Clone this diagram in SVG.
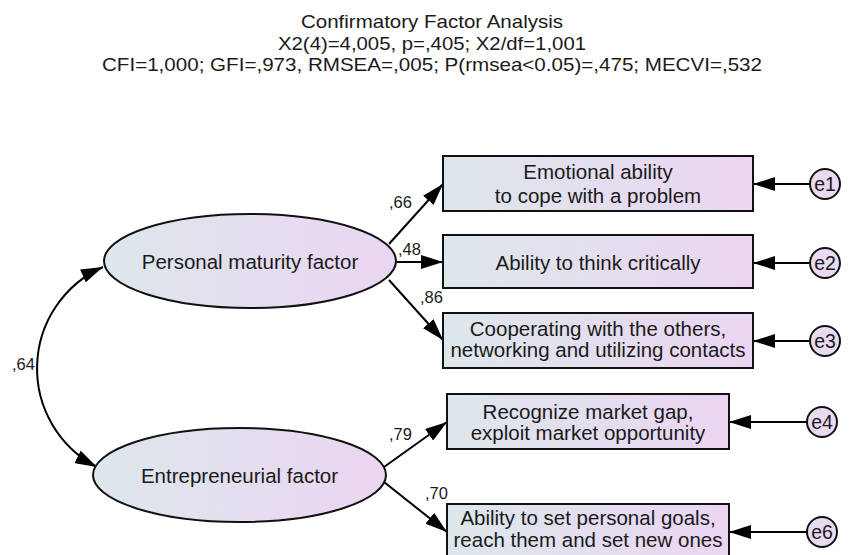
<svg xmlns="http://www.w3.org/2000/svg" width="850" height="555" viewBox="0 0 850 555">
  <defs>
    <linearGradient id="fillGrad" x1="0" y1="0" x2="1" y2="0">
      <stop offset="0" stop-color="#dde7eb"/>
      <stop offset="1" stop-color="#ebd5f2"/>
    </linearGradient>
    <marker id="arrow" viewBox="0 0 22 14" markerWidth="22" markerHeight="14" refX="22" refY="7" orient="auto-start-reverse" markerUnits="userSpaceOnUse">
      <path d="M0,0 L22,7 L0,14 z" fill="#000"/>
    </marker>
    <style>
      text { font-family: "Liberation Sans", Arial, sans-serif; fill: #1a1a1a; }
      .title { font-size: 19px; text-anchor: middle; }
      .lbl { font-size: 20.5px; text-anchor: middle; }
      .etxt { font-size: 19.5px; text-anchor: middle; }
      .coef { font-size: 16.5px; }
      .node rect, .node ellipse { fill: url(#fillGrad); stroke: #111; stroke-width: 2; }
      .err circle { fill: #e9d9f1; stroke: #111; stroke-width: 2; }
      .conn path, .conn line { fill: none; stroke: #000; stroke-width: 2; marker-end: url(#arrow); }
    </style>
  </defs>
  <rect width="850" height="555" fill="#fff"/>

  <!-- fit statistics heading -->
  <g id="heading">
    <text class="title" x="432" y="28" textLength="262" lengthAdjust="spacingAndGlyphs">Confirmatory Factor Analysis</text>
    <text class="title" x="432" y="49.5" textLength="308" lengthAdjust="spacingAndGlyphs">X2(4)=4,005, p=,405; X2/df=1,001</text>
    <text class="title" x="432" y="71" textLength="660" lengthAdjust="spacingAndGlyphs">CFI=1,000; GFI=,973, RMSEA=,005; P(rmsea&lt;0.05)=,475; MECVI=,532</text>
  </g>

  <!-- connectors -->
  <g id="connectors" class="conn">
    <path id="cov" d="M103,267 A111,111 0 0 0 97,467" marker-start="url(#arrow)"/>
    <line x1="389" y1="244" x2="443" y2="184"/>
    <line x1="396" y1="262" x2="443" y2="262"/>
    <line x1="389" y1="280" x2="443" y2="340"/>
    <line x1="384" y1="467" x2="447" y2="422"/>
    <line x1="384" y1="482" x2="447" y2="532"/>
    <line x1="810" y1="184" x2="753" y2="184"/>
    <line x1="810" y1="263" x2="753" y2="263"/>
    <line x1="810" y1="341" x2="753" y2="341"/>
    <line x1="807" y1="422" x2="729" y2="422"/>
    <line x1="807" y1="532" x2="729" y2="532"/>
  </g>

  <!-- path coefficients -->
  <g id="coefficients">
    <text class="coef" x="389" y="208">,66</text>
    <text class="coef" x="398" y="255">,48</text>
    <text class="coef" x="420" y="303">,86</text>
    <text class="coef" x="12" y="370">,64</text>
    <text class="coef" x="389" y="440">,79</text>
    <text class="coef" x="425" y="499">,70</text>
  </g>

  <!-- latent factors -->
  <g id="personal-maturity" class="node">
    <ellipse cx="250" cy="261" rx="146" ry="47"/>
    <text class="lbl" x="250" y="269">Personal maturity factor</text>
  </g>
  <g id="entrepreneurial" class="node">
    <ellipse cx="239.5" cy="475" rx="146.5" ry="47"/>
    <text class="lbl" x="239.5" y="483">Entrepreneurial factor</text>
  </g>

  <!-- observed indicators -->
  <g id="emotional-ability" class="node">
    <rect x="443" y="156" width="310" height="55"/>
    <text class="lbl" x="598" y="179">Emotional ability</text>
    <text class="lbl" x="598" y="203">to cope with a problem</text>
  </g>
  <g id="critical-thinking" class="node">
    <rect x="443" y="235" width="310" height="53"/>
    <text class="lbl" x="598" y="270">Ability to think critically</text>
  </g>
  <g id="cooperating" class="node">
    <rect x="443" y="313" width="310" height="55"/>
    <text class="lbl" x="598" y="336">Cooperating with the others,</text>
    <text class="lbl" x="598" y="357">networking and utilizing contacts</text>
  </g>
  <g id="market-gap" class="node">
    <rect x="447" y="394" width="282" height="55"/>
    <text class="lbl" x="588" y="419">Recognize market gap,</text>
    <text class="lbl" x="588" y="440">exploit market opportunity</text>
  </g>
  <g id="personal-goals" class="node">
    <rect x="447" y="504" width="282" height="55"/>
    <text class="lbl" x="588" y="525">Ability to set personal goals,</text>
    <text class="lbl" x="588" y="547">reach them and set new ones</text>
  </g>

  <!-- error terms -->
  <g id="e1" class="err">
    <circle cx="825" cy="184" r="15"/>
    <text class="etxt" x="825" y="191">e1</text>
  </g>
  <g id="e2" class="err">
    <circle cx="825" cy="263" r="15"/>
    <text class="etxt" x="825" y="270">e2</text>
  </g>
  <g id="e3" class="err">
    <circle cx="825" cy="341" r="15"/>
    <text class="etxt" x="825" y="348">e3</text>
  </g>
  <g id="e4" class="err">
    <circle cx="822" cy="422" r="15"/>
    <text class="etxt" x="822" y="429">e4</text>
  </g>
  <g id="e6" class="err">
    <circle cx="822" cy="532" r="15"/>
    <text class="etxt" x="822" y="539">e6</text>
  </g>
</svg>
